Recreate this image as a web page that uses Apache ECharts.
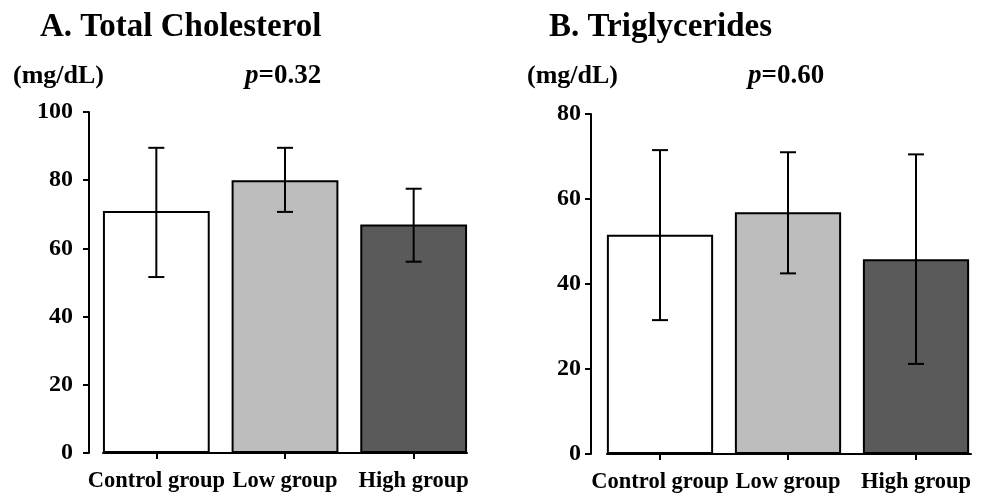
<!DOCTYPE html>
<html>
<head>
<meta charset="utf-8">
<script src="https://cdn.jsdelivr.net/npm/echarts@6/dist/echarts.min.js"></script>
<style>
  html, body { margin: 0; padding: 0; background: #fff; }
  #chart { width: 984px; height: 501px; }
</style>
</head>
<body>
<div id="chart"></div>
<script>
// data
const groups = ["Control group", "Low group", "High group"]
const cholMean = [71, 80, 67]
const cholUpper = [89.5, 89.5, 77.5]
const cholLower = [51.6, 70.7, 56.1]
const trigMean = [51.6, 56.9, 45.8]
const trigUpper = [71.5, 71, 70.5]
const trigLower = [31.5, 42.5, 21.2]
const barColors = ["#ffffff", "#bdbdbd", "#5a5a5a"]

const FONT = "Liberation Serif"

const chart = echarts.init(document.getElementById("chart"))

// error bar drawn through the axis scales
function errorBar(params, api) {
  const x = api.value(0)
  const hi = api.coord([x, api.value(1)])
  const lo = api.coord([x, api.value(2)])
  const half = 8
  const style = { stroke: "#000", lineWidth: 2 }
  return {
    type: "group",
    children: [
      { type: "line", shape: { x1: hi[0], y1: hi[1], x2: lo[0], y2: lo[1] }, style },
      { type: "line", shape: { x1: hi[0] - half, y1: hi[1], x2: hi[0] + half, y2: hi[1] }, style },
      { type: "line", shape: { x1: lo[0] - half, y1: lo[1], x2: lo[0] + half, y2: lo[1] }, style }
    ]
  }
}

function catAxis(gridIndex) {
  return {
    type: "category",
    gridIndex,
    data: groups,
    axisLine: { show: false },
    axisTick: { show: true, alignWithLabel: true, length: 6, lineStyle: { color: "#000", width: 2 } },
    axisLabel: { interval: 0, color: "#000", fontFamily: FONT, fontWeight: "bold", fontSize: 22.5, margin: 17 }
  }
}

// plain line under the bars, from first bar edge to last bar edge
function lineAxis(gridIndex) {
  return {
    type: "value",
    gridIndex,
    min: 0,
    max: 1,
    axisLine: { show: true, onZero: false, lineStyle: { color: "#000", width: 2 } },
    axisTick: { show: false },
    axisLabel: { show: false },
    splitLine: { show: false }
  }
}

function valAxis(gridIndex, max, offset, margin) {
  return {
    type: "value",
    gridIndex,
    min: 0,
    max,
    interval: 20,
    offset,
    axisLine: { show: true, lineStyle: { color: "#000", width: 2 } },
    axisTick: { show: true, length: 6, lineStyle: { color: "#000", width: 2 } },
    axisLabel: { color: "#000", fontFamily: FONT, fontWeight: "bold", fontSize: 24, margin },
    splitLine: { show: false }
  }
}

function textEl(x, y, text, size) {
  return {
    type: "text",
    left: x,
    top: y,
    style: {
      text,
      fill: "#000",
      font: "bold " + size + "px '" + FONT + "'"
    }
  }
}

function pText(x, y, value) {
  return {
    type: "text",
    left: x,
    top: y,
    style: {
      text: "{i|p}{n|=" + value + "}",
      rich: {
        i: { fontFamily: FONT, fontWeight: "bold", fontStyle: "italic", fontSize: 27, fill: "#000" },
        n: { fontFamily: FONT, fontWeight: "bold", fontSize: 27, fill: "#000" }
      }
    }
  }
}

chart.setOption({
  animation: false,
  grid: [
    { left: 92, width: 386, top: 112, height: 341 },
    { left: 103, width: 364, top: 112, height: 341 },
    { left: 596, width: 384, top: 114, height: 340 },
    { left: 607, width: 364, top: 114, height: 340 }
  ],
  xAxis: [catAxis(0), lineAxis(1), catAxis(2), lineAxis(3)],
  yAxis: [
    valAxis(0, 100, 3, 16),
    { type: "value", gridIndex: 1, min: 0, max: 1, show: false },
    valAxis(2, 80, 5, 10),
    { type: "value", gridIndex: 3, min: 0, max: 1, show: false }
  ],
  graphic: [
    textEl(40, 11, "A. Total Cholesterol", 33),
    textEl(13, 63, "(mg/dL)", 26),
    pText(245, 63, "0.32"),
    textEl(549, 11, "B. Triglycerides", 33),
    textEl(527, 63, "(mg/dL)", 26),
    pText(748, 63, "0.60")
  ],
  series: [
    {
      type: "bar",
      xAxisIndex: 0,
      yAxisIndex: 0,
      barWidth: "83%",
      data: cholMean.map((v, i) => ({
        value: v,
        itemStyle: { color: barColors[i], borderColor: "#000", borderWidth: 2 }
      }))
    },
    {
      type: "custom",
      xAxisIndex: 0,
      yAxisIndex: 0,
      renderItem: errorBar,
      data: groups.map((g, i) => [i, cholUpper[i], cholLower[i]]),
      z: 10
    },
    {
      type: "bar",
      xAxisIndex: 2,
      yAxisIndex: 2,
      barWidth: "83%",
      data: trigMean.map((v, i) => ({
        value: v,
        itemStyle: { color: barColors[i], borderColor: "#000", borderWidth: 2 }
      }))
    },
    {
      type: "custom",
      xAxisIndex: 2,
      yAxisIndex: 2,
      renderItem: errorBar,
      data: groups.map((g, i) => [i, trigUpper[i], trigLower[i]]),
      z: 10
    }
  ]
})
</script>
</body>
</html>
